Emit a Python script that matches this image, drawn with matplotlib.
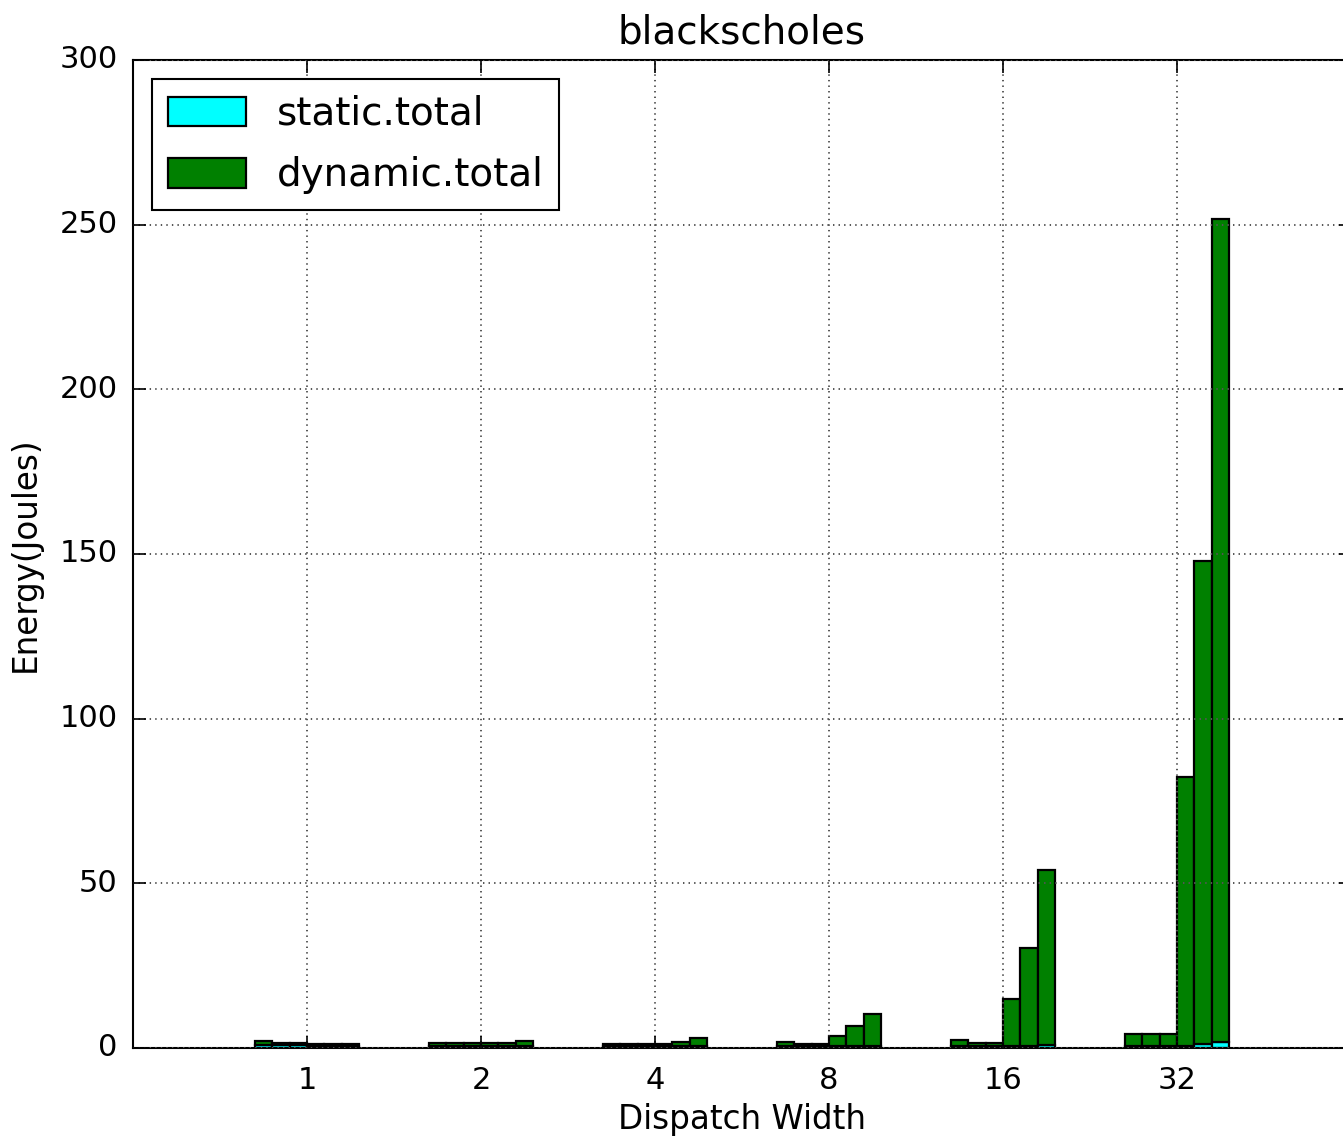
import matplotlib
matplotlib.use("Agg")
import matplotlib.pyplot as plt
import numpy as np

plt.style.use("classic")

groups = ["1", "2", "4", "8", "16", "32"]
# six configurations per dispatch width (stacked: static + dynamic)
static_total = [
    [0.9, 0.9, 0.9, 0.6, 0.6, 0.6],
    [0.6, 0.6, 0.6, 0.6, 0.6, 0.6],
    [0.5, 0.5, 0.5, 0.5, 0.5, 0.5],
    [0.5, 0.5, 0.5, 0.5, 0.5, 0.5],
    [0.5, 0.5, 0.5, 0.5, 0.5, 1.0],
    [0.7, 0.7, 0.7, 0.7, 1.3, 1.8],
]
dynamic_total = [
    [1.1, 0.5, 0.5, 0.7, 0.7, 0.7],
    [0.8, 0.8, 0.8, 0.8, 0.8, 1.5],
    [0.7, 0.7, 0.7, 0.7, 1.3, 2.6],
    [1.4, 0.6, 0.6, 3.2, 6.2, 9.9],
    [1.9, 0.9, 0.9, 14.5, 29.9, 53.2],
    [3.4, 3.4, 3.4, 81.6, 146.6, 249.9],
]

fig = plt.figure(figsize=(13.43, 11.4), dpi=100)
ax = fig.add_axes([133 / 1343, 92 / 1140, 1218 / 1343, 988 / 1140])

width = 0.1
static_arr = np.array(static_total)
dyn_arr = np.array(dynamic_total)
for k in range(6):
    xs = np.arange(len(groups)) + (k - 3) * width
    ax.bar(xs, static_arr[:, k], width, align="edge", color="cyan",
           edgecolor="black", linewidth=1.6,
           label="static.total" if k == 0 else None)
    ax.bar(xs, dyn_arr[:, k], width, bottom=static_arr[:, k], align="edge",
           color="green", edgecolor="black", linewidth=1.6,
           label="dynamic.total" if k == 0 else None)

ax.set_xlim(-1, 6)
ax.set_ylim(0, 300)
ax.set_xticks(np.arange(len(groups)))
ax.set_xticklabels(groups)
ax.set_yticks(np.arange(0, 301, 50))
ax.tick_params(labelsize=22, length=9, width=1.2)
ax.tick_params(axis="y", pad=11)
ax.tick_params(axis="x", pad=13)
for s in ax.spines.values():
    s.set_linewidth(1.5)
ax.grid(True, color="#555555", linestyle=":", linewidth=1.4)
ax.set_axisbelow(False)
ax.set_title("blackscholes", fontsize=28, pad=12)
ax.set_xlabel("Dispatch Width", fontsize=23.5, labelpad=6)
ax.set_ylabel("Energy(Joules)", fontsize=23.5, labelpad=13)
leg = ax.legend(loc="upper left", fontsize=28, labelspacing=0.6,
                handleheight=0.8, borderaxespad=0.5)
leg.get_frame().set_linewidth(1.5)

fig.savefig("out.png", dpi=100)
